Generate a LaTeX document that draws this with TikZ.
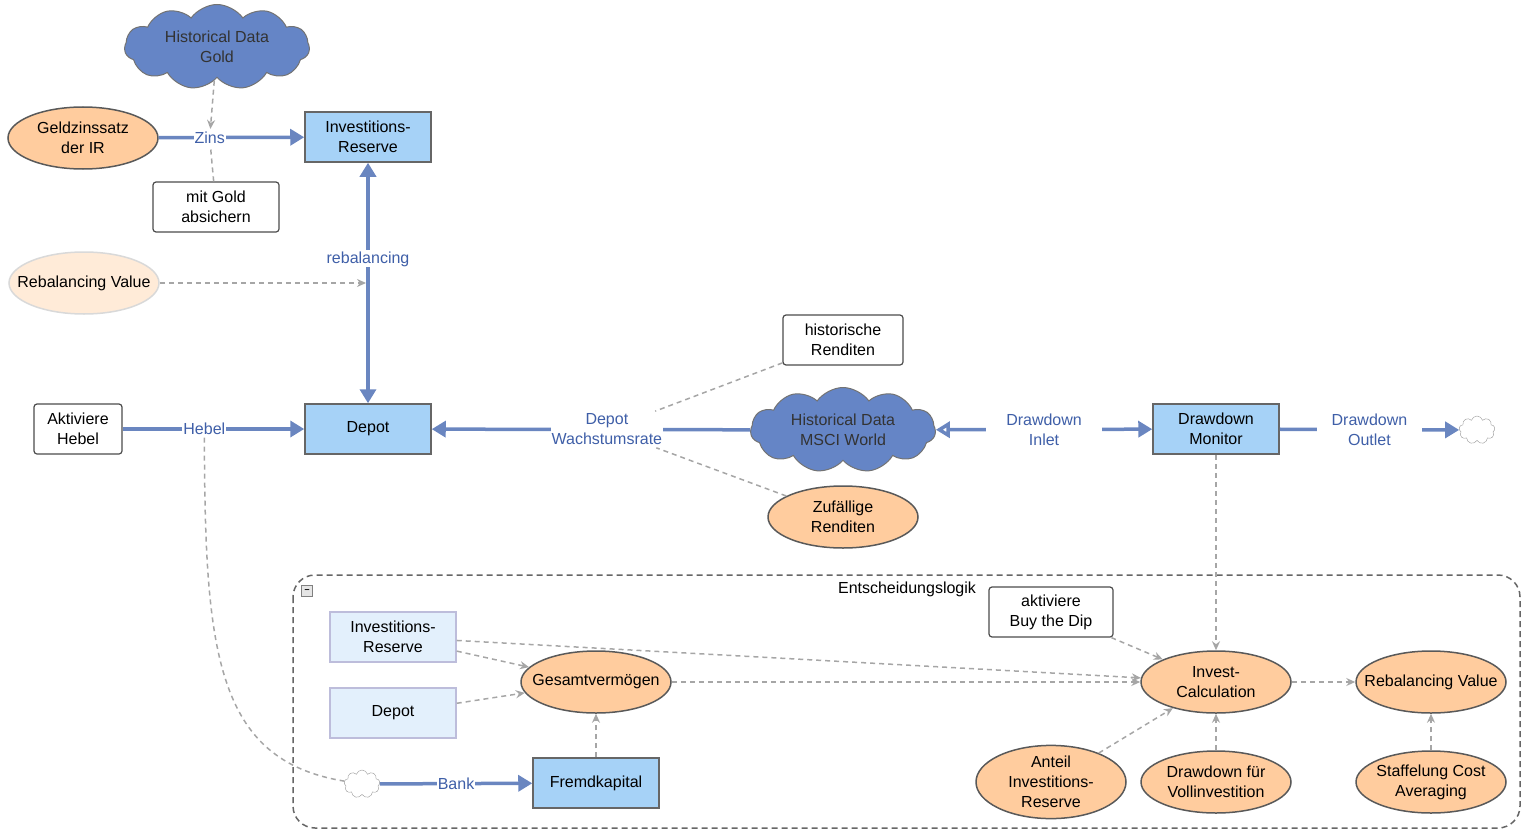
\documentclass[tikz,border=0pt]{standalone}
\usepackage{fontspec}
\setmainfont{Liberation Sans}
\usetikzlibrary{shapes.geometric,shapes.symbols,arrows.meta}
\definecolor{flowblue}{HTML}{6A86C0}
\definecolor{stockfill}{HTML}{A6D2F7}
\definecolor{ghostfill}{HTML}{E3F0FC}
\definecolor{varfill}{HTML}{FFCC9E}
\definecolor{cloudfill}{HTML}{6585C6}
\definecolor{textblue}{HTML}{3F5FA8}
\begin{document}
\begin{tikzpicture}[x=1pt,y=-1pt,font=\fontsize{16}{20}\selectfont,
  stock/.style={draw=black!60, line width=1.5pt, fill=stockfill, minimum width=126pt, minimum height=50pt, align=center},
  ghost/.style={draw=blue!30!gray!40, line width=1.5pt, fill=ghostfill, minimum width=126pt, minimum height=50pt, align=center},
  var/.style={draw=black!65, line width=1.5pt, ellipse, fill=varfill, minimum width=150pt, minimum height=62pt, inner xsep=-14pt, inner ysep=0pt, align=center},
  note/.style={draw=black!70, line width=1.2pt, rounded corners=3pt, fill=white, minimum height=50pt, align=center},
  data/.style={cloud, cloud puffs=11, cloud puff arc=110, aspect=2.3, draw=black!55, line width=1pt, fill=cloudfill, minimum width=185pt, minimum height=85pt, inner sep=0pt, align=center, text=black!80},
  puff/.style={cloud, cloud puffs=9, aspect=1.3, draw=black!40, fill=white, minimum width=36pt, minimum height=28pt, inner sep=0pt},
  flow/.style={draw=flowblue, line width=3.5pt, -{Triangle[length=14pt,width=16pt]}},
  link/.style={draw=black!35, line width=1.5pt, dash pattern=on 5pt off 4pt, -{Stealth[length=9pt,width=8pt]}},
  lbl/.style={text=textblue, fill=white, inner sep=1pt, align=center}]
\useasboundingbox (0,0) rectangle (1525,832);
% container
\draw[black!60, line width=1.5pt, dash pattern=on 6pt off 4pt, rounded corners=22pt] (293,575) rectangle (1520,828);
\node[draw=black!50, fill=black!10, minimum size=11pt, inner sep=0pt, font=\bfseries\small] (minus) at (307,591) {--};
\node (logik) at (907,589) {Entscheidungslogik};
% nodes
\node[data] (gold) at (217,47) {Historical Data\\Gold};
\node[var] (zinssatz) at (83,138) {Geldzinssatz\\der IR};
\node[stock] (ir) at (368,137) {Investitions-\\Reserve};
\node[note, minimum width=126pt] (gold_abs) at (216,207) {mit Gold\\absichern};
\node[var, fill=varfill!40, draw=black!15] (rebal_top) at (84,283) {Rebalancing Value};
\node[stock] (depot) at (368,429) {Depot};
\node[note, minimum width=88pt] (hebel_on) at (78,429) {Aktiviere\\Hebel};
\node[data] (msci) at (843,430) {Historical Data\\MSCI World};
\node[note, minimum width=120pt] (hist) at (843,340) {historische\\Renditen};
\node[var] (zufall) at (843,517) {Zufällige\\Renditen};
\node[stock] (monitor) at (1216,429) {Drawdown\\Monitor};
\node[puff] (sink) at (1477,430) {};
\node[note, minimum width=124pt] (dip) at (1051,612) {aktiviere\\Buy the Dip};
\node[ghost] (ir2) at (393,637) {Investitions-\\Reserve};
\node[ghost] (depot2) at (393,713) {Depot};
\node[var] (gesamt) at (596,682) {Gesamtvermögen};
\node[stock] (fremd) at (596,783) {Fremdkapital};
\node[puff] (source) at (362,784) {};
\node[var] (calc) at (1216,682) {Invest-\\Calculation};
\node[var] (rebal) at (1431,682) {Rebalancing Value};
\node[var] (anteil) at (1051,782) {Anteil\\Investitions-\\Reserve};
\node[var] (vollinv) at (1216,782) {Drawdown für\\Vollinvestition};
\node[var] (staffel) at (1431,782) {Staffelung Cost\\Averaging};
\coordinate (rebal_in) at (366,283);
% flows
\draw[flow] (zinssatz) -- (ir) node[lbl, pos=0.35] (zins) {Zins};
\draw[flow, {Triangle[length=14pt,width=16pt]}-{Triangle[length=14pt,width=16pt]}] (ir) -- (depot) node[lbl, pos=0.4] (rebalancing) {rebalancing};
\draw[flow] (hebel_on) -- (depot) node[lbl, pos=0.45] (hebel) {Hebel};
\draw[flow] (msci) -- (depot) node[lbl, pos=0.45] (wachstum) {Depot\\Wachstumsrate};
\draw[flow, {Triangle[open,length=14pt,width=16pt]}-{Triangle[length=14pt,width=16pt]}] (msci) -- (monitor) node[lbl, midway, inner xsep=20pt] (inlet) {Drawdown\\Inlet};
\draw[flow] (monitor) -- (sink) node[lbl, midway, inner xsep=15pt] (outlet) {Drawdown\\Outlet};
\draw[flow] (source) -- (fremd) node[lbl, pos=0.5] (bank) {Bank};
% links
\draw[link] (gold) -- (zins);
\draw[link, -] (gold_abs) -- (zins);
\draw[link] (rebal_top) -- (rebal_in);
\draw[link, -] (hist) -- (wachstum);
\draw[link, -] (zufall) -- (wachstum);
\draw[link, -] (hebel) .. controls (205,650) and (215,760) .. (source);
\draw[link] (monitor) -- (calc);
\draw[link] (dip) -- (calc);
\draw[link] (ir2) -- (gesamt);
\draw[link] (ir2) -- (calc);
\draw[link] (depot2) -- (gesamt);
\draw[link] (gesamt) -- (calc);
\draw[link] (fremd) -- (gesamt);
\draw[link] (anteil) -- (calc);
\draw[link] (vollinv) -- (calc);
\draw[link] (calc) -- (rebal);
\draw[link] (staffel) -- (rebal);
\end{tikzpicture}
\end{document}
